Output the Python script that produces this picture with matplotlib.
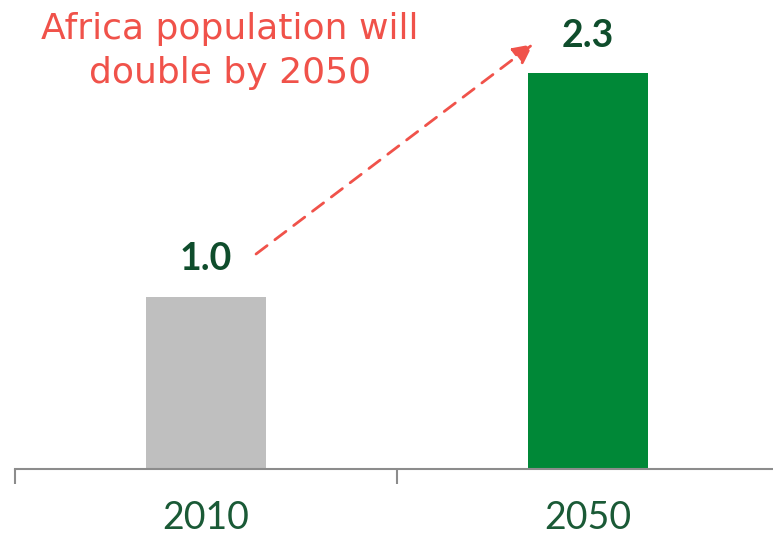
import matplotlib
matplotlib.use("Agg")
import matplotlib.pyplot as plt

# data
years = ["2010", "2050"]
population_bn = [1.0, 2.3]
bar_colors = ["#bfbfbf", "#008837"]

plt.rcParams['font.family'] = ['Lato', 'DejaVu Sans']

fig = plt.figure(figsize=(7.73, 5.35), dpi=100)
# axes runs past the right edge like in the original slide
ax = fig.add_axes([15 / 773, 66 / 535, 764 / 773, 467.8 / 535])

x = range(len(years))
ax.bar(x, population_bn, width=0.314, color=bar_colors, zorder=2)
ax.set_xlim(-0.5, 1.5)
ax.set_ylim(0, 2.72)

for xi, v in zip(x, population_bn):
    ax.text(xi, v + 0.12, f"{v:.1f}", ha='center', va='bottom',
            fontsize=27, fontweight='bold', color="#0f4d2c")

# axis styling
for side in ['top', 'right', 'left']:
    ax.spines[side].set_visible(False)
ax.spines['bottom'].set_color("#8c8c8c")
ax.spines['bottom'].set_linewidth(1.5)
ax.set_yticks([])
ax.set_xticks(list(x))
ax.set_xticklabels(years, fontsize=27, color="#1a5a36")
ax.tick_params(axis='x', which='major', length=0, pad=22)
ax.set_xticks([-0.5, 0.5, 1.5], minor=True)
ax.tick_params(axis='x', which='minor', length=11, width=1.5, color="#8c8c8c")

# dashed growth arrow
ax.annotate("", xy=(0.856, 2.47), xytext=(0.131, 1.25),
            arrowprops=dict(arrowstyle='-|>', color="#f0524a", lw=2,
                            linestyle=(0, (5, 3.5)), mutation_scale=30,
                            shrinkA=0, shrinkB=0))

fig.text(230 / 773, 1 - 51 / 535, "Africa population will\ndouble by 2050",
         ha='center', va='center', fontsize=26, color="#f0524a",
         family=['DejaVu Sans'], linespacing=1.35)

fig.savefig("out.png", dpi=100)
